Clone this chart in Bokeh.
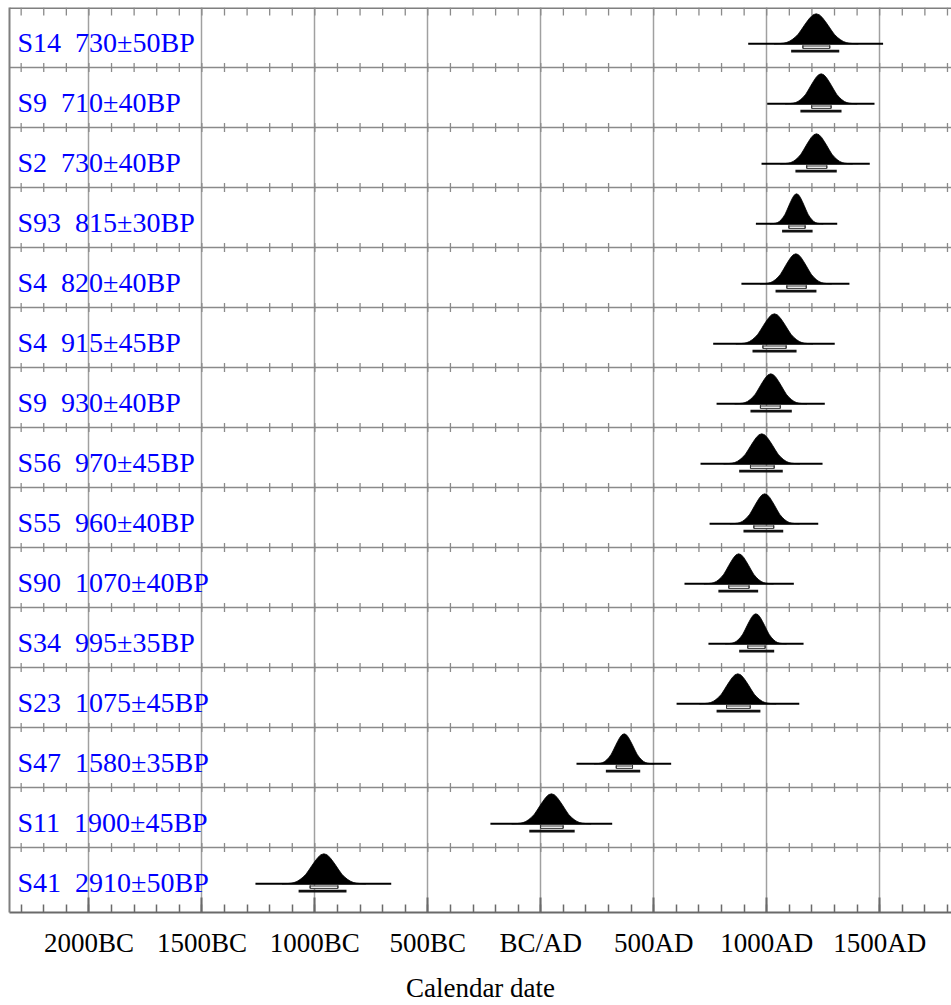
from bokeh.plotting import figure
from bokeh.models import Range1d, FixedTicker
from bokeh.core.properties import value
from bokeh.embed import file_html
from bokeh.resources import INLINE

# ---- data ----
samples = ["S14", "S9", "S2", "S93", "S4", "S4", "S9", "S56", "S55", "S90",
           "S34", "S23", "S47", "S11", "S41"]
bp_age = [730, 710, 730, 815, 820, 915, 930, 970, 960, 1070, 995, 1075, 1580, 1900, 2910]
bp_err = [50, 40, 40, 30, 40, 45, 40, 45, 40, 40, 35, 45, 35, 45, 50]

# calendar years (negative = BC)
mode_year = [1219, 1241, 1220, 1132, 1129, 1034, 1018, 978, 991, 876, 952, 872, 369, 47, -960]
lo68 = [1160, 1199, 1177, 1098, 1089, 983, 972, 928, 943, 832, 916, 822, 334, -1, -1021]
hi68 = [1279, 1285, 1266, 1170, 1175, 1086, 1060, 1033, 1031, 922, 993, 927, 406, 99, -898]
lo95 = [1108, 1149, 1127, 1068, 1039, 937, 928, 878, 897, 786, 878, 778, 288, -51, -1072]
hi95 = [1321, 1331, 1310, 1203, 1220, 1132, 1111, 1071, 1073, 962, 1033, 972, 440, 150, -860]
base_lo = [918, 1002, 977, 952, 888, 763, 778, 707, 747, 636, 742, 601, 158, -223, -1263]
base_hi = [1515, 1477, 1456, 1312, 1366, 1301, 1257, 1247, 1228, 1120, 1163, 1144, 577, 316, -662]

# common shape of the plotted probability curves (offset in spreads, relative height)
profile_off = [-3.5, -3.25, -3.0, -2.75, -2.5, -2.25, -2.0, -1.75, -1.5, -1.25, -1.0, -0.75,
               -0.5, -0.25, 0.0, 0.25, 0.5, 0.75, 1.0, 1.25, 1.5, 1.75, 2.0, 2.25, 2.5,
               2.75, 3.0, 3.25, 3.5]
profile_h = [0.0, 0.005, 0.01, 0.02, 0.04, 0.08, 0.14, 0.22, 0.32, 0.46, 0.61, 0.75,
             0.88, 0.97, 1.0, 0.97, 0.88, 0.75, 0.61, 0.46, 0.32, 0.22, 0.14, 0.08, 0.04,
             0.02, 0.01, 0.005, 0.0]

tick_years = [-2000, -1500, -1000, -500, 0, 500, 1000, 1500]
tick_labels = ["2000BC", "1500BC", "1000BC", "500BC", "BC/AD", "500AD", "1000AD", "1500AD"]
minor_years = list(range(-2300, 1900, 100))

labels = [f"{s} \u00a0{a}\u00b1{e}BP" for s, a, e in zip(samples, bp_age, bp_err)]
n = len(samples)
PX = 1.0 / 60.0   # one pixel in row units
X0, X1 = -2351.6, 1817.8

p = figure(width=951, height=1005, output_backend="svg", toolbar_location=None,
           x_range=Range1d(X0, X1), y_range=Range1d(-5 * PX, n),
           min_border_left=9, min_border_right=0, min_border_top=7, min_border_bottom=93)
p.outline_line_color = None
p.background_fill_color = "white"
p.border_fill_color = "white"

# grids
p.xgrid.ticker = FixedTicker(ticks=tick_years)
p.xgrid.grid_line_color = "#a0a0a0"
p.xgrid.grid_line_width = 1.5
p.ygrid.ticker = FixedTicker(ticks=list(range(1, n)))
p.ygrid.grid_line_color = "#8a8a8a"
p.ygrid.grid_line_width = 1.5

# bottom axis
ax = p.xaxis[0]
ax.ticker = FixedTicker(ticks=tick_years, minor_ticks=minor_years)
ax.major_label_overrides = {t: l for t, l in zip(tick_years, tick_labels)}
ax.major_label_text_font = "Liberation Serif"
ax.major_label_text_font_size = "27px"
ax.major_label_text_color = "black"
ax.major_label_standoff = 15
ax.axis_label = "Calendar date"
ax.axis_label_text_font = "Liberation Serif"
ax.axis_label_text_font_size = "27px"
ax.axis_label_text_font_style = "normal"
ax.axis_label_text_color = "black"
ax.axis_label_standoff = 12
ax.axis_line_color = "#6a6a6a"
ax.axis_line_width = 2
ax.major_tick_in = 15
ax.major_tick_out = 0
ax.minor_tick_in = 8
ax.minor_tick_out = 0
ax.major_tick_line_color = "#6a6a6a"
ax.major_tick_line_width = 2
ax.minor_tick_line_color = "#6a6a6a"
ax.minor_tick_line_width = 1.5

# left border
ay = p.yaxis[0]
ay.ticker = FixedTicker(ticks=[])
ay.major_label_text_font_size = "0px"
ay.major_tick_line_color = None
ay.minor_tick_line_color = None
ay.major_tick_out = 0
ay.minor_tick_out = 0
ay.major_label_standoff = 0
ay.axis_line_color = "#7f7f7f"
ay.axis_line_width = 2

# top border and its ticks
p.segment(x0=[X0], x1=[X1], y0=[n], y1=[n], line_color="#7f7f7f", line_width=3)
p.segment(x0=minor_years, x1=minor_years, y0=[n - 8 * PX] * len(minor_years),
          y1=[n] * len(minor_years), line_color="#8a8a8a", line_width=1.3)
# row separator ticks
tx, ty0, ty1 = [], [], []
for r in range(1, n):
    for yr in minor_years:
        tx.append(yr)
        ty0.append(r - 4.5 * PX)
        ty1.append(r + 4.5 * PX)
p.segment(x0=tx, x1=tx, y0=ty0, y1=ty1, line_color="#8a8a8a", line_width=1.3)

# distributions
pxs, pys = [], []
base_y, y68, y95 = [], [], []
for k in range(n):
    top = n - k
    b = top - 36.3 * PX
    sd = (hi95[k] - lo95[k]) / 4.0
    xs = [mode_year[k] + o * sd for o in profile_off]
    ys = [b + 0.5 * h for h in profile_h]
    pxs.append(xs)
    pys.append(ys)
    base_y.append(b)
    y68.append(top - 39.7 * PX)
    y95.append(top - 43.6 * PX)

p.patches(xs=pxs, ys=pys, fill_color="black", line_color="black", line_width=0.8)
p.segment(x0=base_lo, x1=base_hi, y0=base_y, y1=base_y, line_color="black", line_width=2)

# 68% ranges (hollow bracket)
p.quad(left=lo68, right=hi68, bottom=[v - 1.2 * PX for v in y68],
       top=[v + 1.2 * PX for v in y68], fill_color="white", line_color="#333333",
       line_width=1)
p.segment(x0=lo68 + hi68, x1=lo68 + hi68,
          y0=[v - 1.2 * PX for v in y68] * 2, y1=[v + 3.0 * PX for v in y68] * 2,
          line_color="#333333", line_width=1)
# 95% ranges (solid bar)
p.quad(left=lo95, right=hi95, bottom=[v - 1.4 * PX for v in y95],
       top=[v + 1.4 * PX for v in y95], fill_color="#111111", line_color=None)

# row labels
p.text(x=[-2316] * n, y=[n - k - 35 * PX for k in range(n)], text=labels,
       text_font=value("Liberation Serif"), text_font_size="28px",
       text_color="#0000ff", text_baseline="alphabetic", text_align="left")

open("out.html", "w").write(file_html(p, INLINE))
